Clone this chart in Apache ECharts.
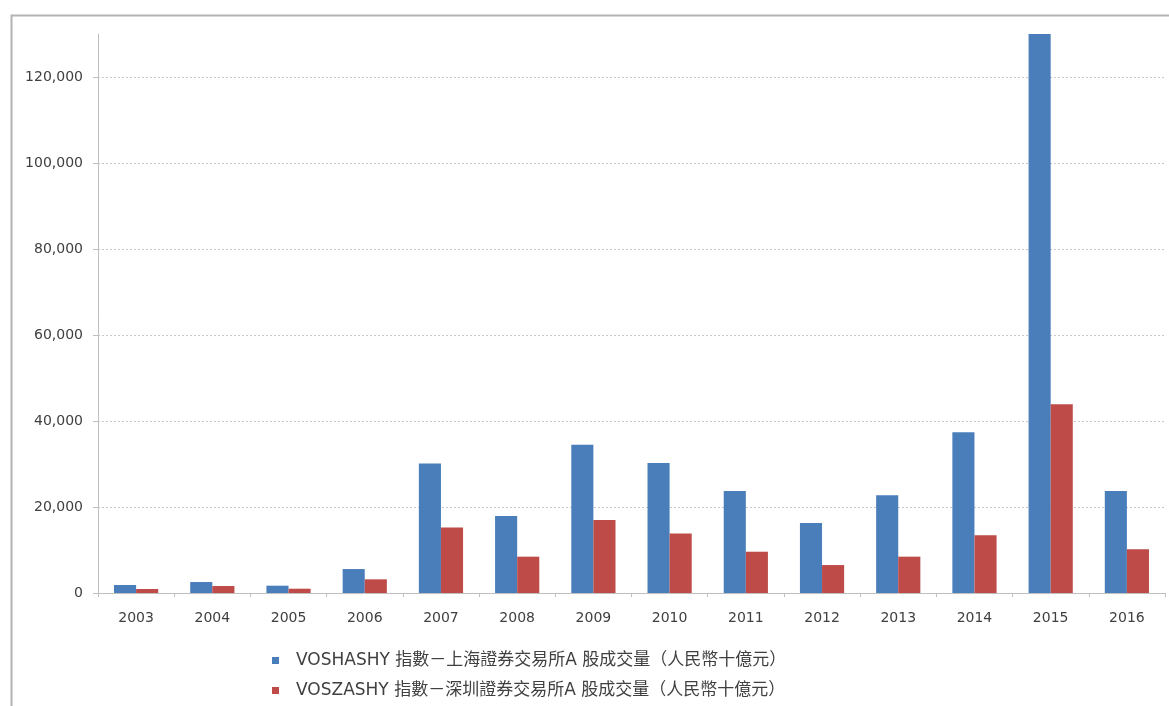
<!DOCTYPE html>
<html><head><meta charset="utf-8">
<script src="https://cdn.jsdelivr.net/npm/echarts@6/dist/echarts.min.js"></script>
<style>html,body{margin:0;padding:0;background:#fff}#c{width:1169px;height:706px}</style>
</head><body><div id="c"></div>
<script>
const years = ['2003','2004','2005','2006','2007','2008','2009','2010','2011','2012','2013','2014','2015','2016'];
const shName = 'VOSHASHY 指數－上海證券交易所A 股成交量（人民幣十億元）';
const szName = 'VOSZASHY 指數－深圳證券交易所A 股成交量（人民幣十億元）';
const shValues = [1860, 2550, 1700, 5570, 30100, 17900, 34500, 30250, 23700, 16300, 22750, 37400, 131000, 23750];
const szValues = [930, 1620, 1000, 3180, 15250, 8450, 16950, 13850, 9600, 6500, 8450, 13450, 43900, 10150];
const yMax = 130000;
const yInterval = 20000;

const chart = echarts.init(document.getElementById('c'));
const font = '"DejaVu Sans", "Noto Sans CJK TC", sans-serif';
chart.setOption({
  animation: false,
  textStyle: { fontFamily: font },
  graphic: [{
    type: 'rect', left: 9, top: 13, z: -1, silent: true,
    shape: { width: 1300, height: 900 },
    style: { fill: 'none', stroke: '#b3b3b3', lineWidth: 2 }
  }],
  grid: { left: 98, top: 34, right: 4, bottom: 113 },
  legend: {
    orient: 'vertical', left: 267, top: 647, itemGap: 13,
    itemWidth: 7, itemHeight: 7, icon: 'rect',
    textStyle: { fontSize: 17, color: '#404040', fontFamily: font, padding: [0, 0, 0, 12] }
  },
  xAxis: {
    type: 'category', data: years, boundaryGap: true,
    axisLine: { lineStyle: { color: '#bfbfbf', width: 1 } },
    axisTick: { show: true, length: 4, lineStyle: { color: '#bfbfbf' } },
    axisLabel: { color: '#404040', fontSize: 14, margin: 18, fontFamily: font }
  },
  yAxis: {
    type: 'value', min: 0, max: yMax, interval: yInterval,
    axisLine: { show: true, lineStyle: { color: '#bfbfbf' } },
    axisTick: { show: true, length: 5, lineStyle: { color: '#bfbfbf' } },
    axisLabel: { showMaxLabel: false, color: '#404040', fontSize: 14, margin: 15, fontFamily: font,
      formatter: v => v.toLocaleString('en-US') },
    splitLine: { show: true, showMinLine: false, showMaxLine: false, lineStyle: { color: '#c8c8c8', type: [2, 2] } }
  },
  series: [
    { name: shName, type: 'bar', data: shValues, itemStyle: { color: '#4a7ebb' }, barGap: '0%', barCategoryGap: '42%' },
    { name: szName, type: 'bar', data: szValues, itemStyle: { color: '#be4b48' }, barGap: '0%', barCategoryGap: '42%' }
  ]
});
</script></body></html>
